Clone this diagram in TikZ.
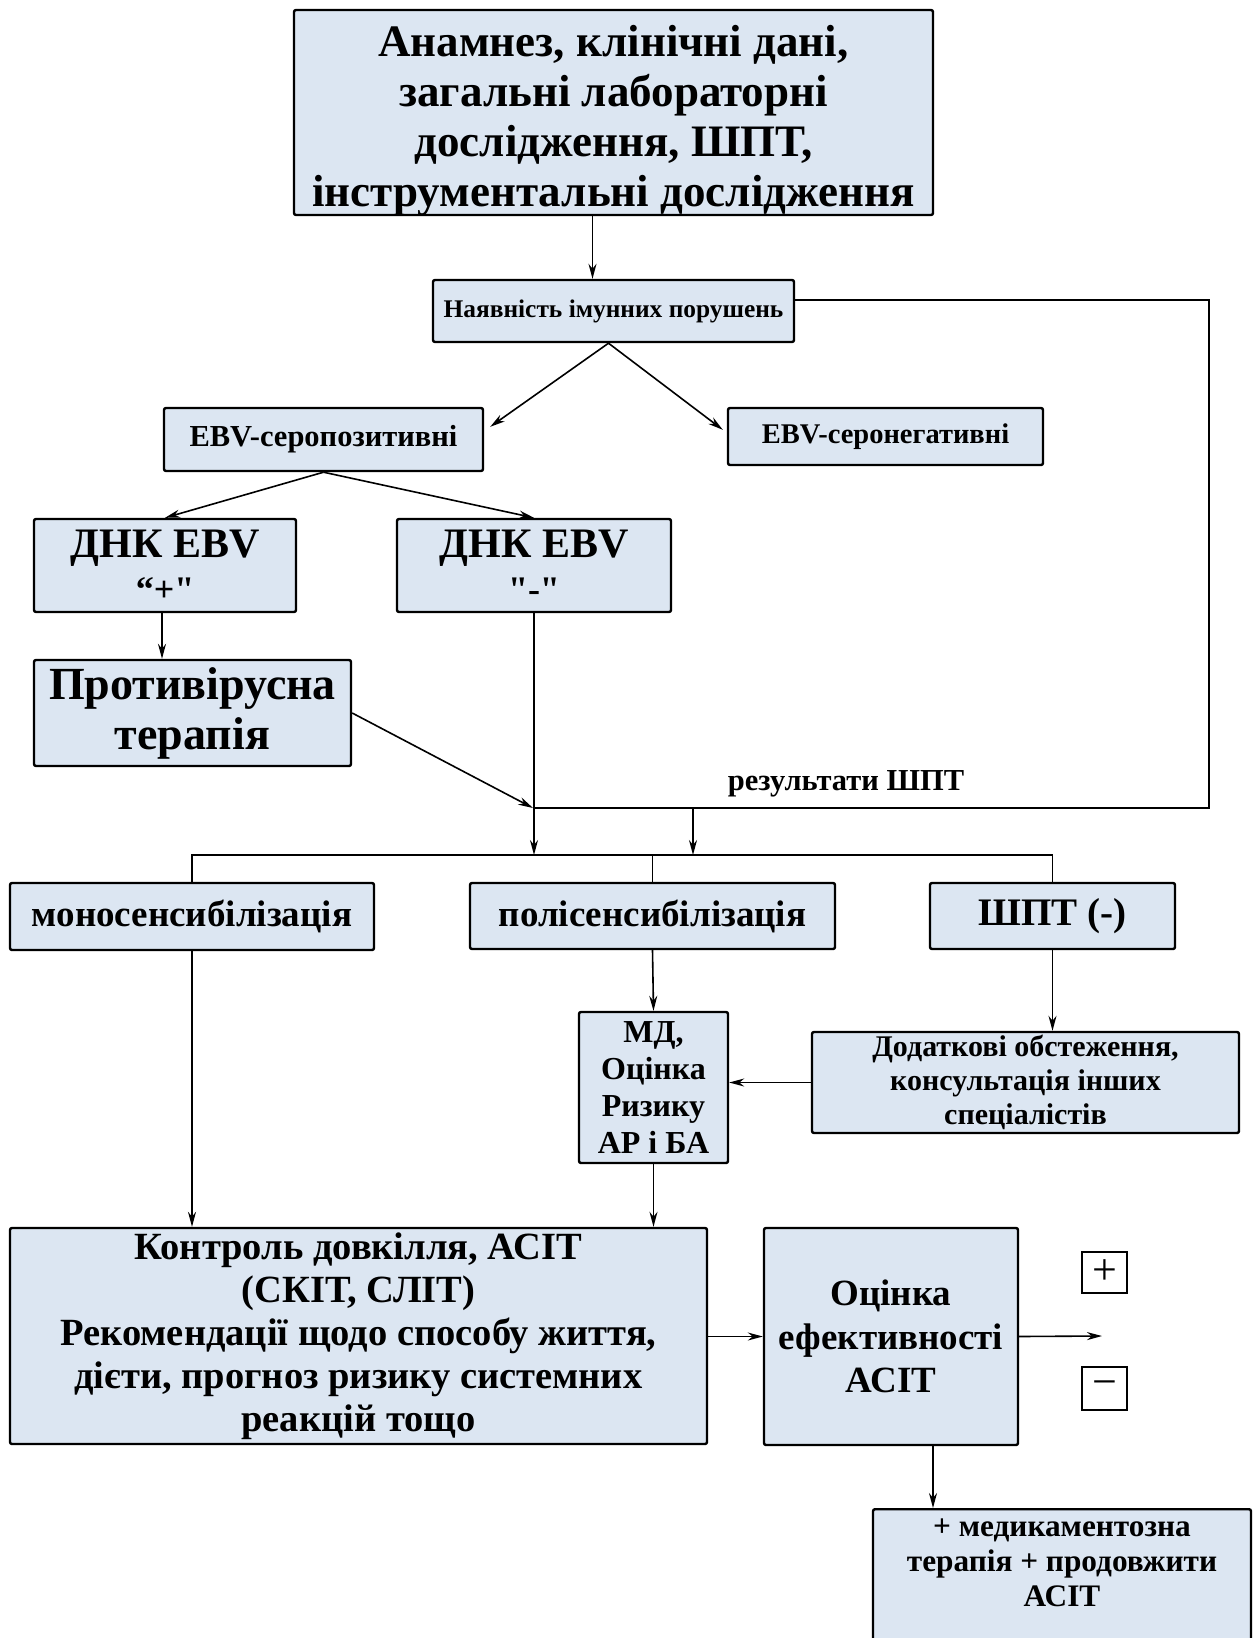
\documentclass[tikz,border=0pt]{standalone}
\usepackage{fontspec}
\setmainfont{Liberation Serif}
\usetikzlibrary{arrows.meta}

\definecolor{boxblue}{HTML}{DCE6F2}
\newcommand\setfs[2]{\fontsize{#1}{#2}\selectfont}

\tikzset{
  blok/.style={draw=black, line width=2.4pt, rounded corners=2pt, fill=boxblue,
    align=center, inner sep=2pt},
  znak/.style={draw=black, line width=1.4pt, fill=white, inner sep=0pt, font=\setfs{44}{44}},
  lin/.style={line width=1.6pt},
}

\begin{document}
\begin{tikzpicture}[x=1pt, y=-1pt, >={Stealth[length=15pt,width=8pt]}]
  \useasboundingbox (0,0) rectangle (1254,1638);

  % Верхня частина
  \node[blok, minimum width=639pt, minimum height=205pt, font={\bfseries\setfs{45}{50}}] (anam) at (613.5,112.5)
    {\parbox[c][195pt][c]{630pt}{\centering\vspace*{16pt}Анамнез, клінічні дані,\\ загальні лабораторні\\
      дослідження, ШПТ,\\ інструментальні дослідження}};
  \node[blok, minimum width=361pt, minimum height=62pt, font={\bfseries\setfs{25.4}{30}}] (immun) at (613.5,311)
    {Наявність імунних порушень};
  \node[blok, minimum width=319pt, minimum height=63pt, font={\bfseries\setfs{30.5}{36}}] (seropos) at (323.5,439.5)
    {EBV-серопозитивні};
  \node[blok, minimum width=315pt, minimum height=57pt, font={\bfseries\setfs{28.5}{34}}] (seroneg) at (885.5,436.5)
    {EBV-серонегативні};

  % ДНК EBV
  \node[blok, minimum width=262pt, minimum height=93pt, font={\bfseries\setfs{42}{44}}] (dnkpos) at (165,565.5)
    {ДНК EBV\\ {\setfs{36}{36}“+\textquotedbl}};
  \node[blok, minimum width=274pt, minimum height=93pt, font={\bfseries\setfs{42}{44}}] (dnkneg) at (534,565.5)
    {ДНК EBV\\ {\setfs{36}{36}\textquotedbl-\textquotedbl}};
  \node[blok, minimum width=317pt, minimum height=106pt, font={\bfseries\setfs{46}{50}}] (antivir) at (192.5,713)
    {Противірусна\\ терапія};

  \node[font={\bfseries\setfs{30.5}{34}}] (rez) at (846,784) {результати ШПТ};

  % Результати ШПТ
  \node[blok, minimum width=364pt, minimum height=67pt, font={\bfseries\setfs{37}{42}}] (mono) at (192,916.5)
    {моносенсибілізація};
  \node[blok, minimum width=365pt, minimum height=66pt, font={\bfseries\setfs{37}{42}}] (poly) at (652.5,916)
    {полісенсибілізація};
  \node[blok, minimum width=245pt, minimum height=66pt, font={\bfseries\setfs{39}{44}}] (shpt) at (1052.5,916)
    {ШПТ (-)};
  \node[blok, minimum width=149pt, minimum height=151pt, font={\bfseries\setfs{32}{37}}] (md) at (653.5,1087.5)
    {МД,\\ Оцінка\\ Ризику\\ АР і БА};
  \node[blok, minimum width=427pt, minimum height=101pt, font={\bfseries\setfs{30}{34}}] (dod) at (1025.5,1082.5)
    {Додаткові обстеження,\\ консультація інших\\ спеціалістів};

  % Нижня частина
  \node[blok, minimum width=697pt, minimum height=216pt, font={\bfseries\setfs{38.5}{43}}] (control) at (358.5,1336)
    {Контроль довкілля, АСІТ\\ (СКІТ, СЛІТ)\\ Рекомендації щодо способу життя,\\ дієти, прогноз ризику системних\\ реакцій тощо};
  \node[blok, minimum width=254pt, minimum height=217pt, font={\bfseries\setfs{37}{43.4}}] (ocinka) at (891,1336.5)
    {Оцінка\\ ефективності\\ АСІТ};
  \node[znak, minimum width=45pt, minimum height=41pt] (plus) at (1104.5,1272.5) {+};
  \node[znak, minimum width=45pt, minimum height=43pt] (minus) at (1104.5,1388.5) {−};
  \node[blok, anchor=north, minimum width=378pt, minimum height=170pt, font={\bfseries\setfs{31.3}{35}}] (final) at (1062,1508)
    {\parbox[c][150pt][t]{370pt}{\centering + медикаментозна\\ терапія + продовжити\\ АСІТ}};

  \coordinate (J) at (533,808);
  \coordinate (K) at (693,808);
  \coordinate (R) at (1209,808);
  \coordinate (bus) at (0,855);
  \coordinate (vyhid) at (1102,1336);

  % Стрілки
  \draw[lin,->] ([xshift=-21pt]anam.south) -- ([xshift=-21pt]immun.north);
  \draw[lin,->] ([xshift=-5pt]immun.south) -- ([shift={(6,20)}]seropos.north east);
  \draw[lin,->] ([xshift=-5pt]immun.south) -- ([shift={(-4,23)}]seroneg.north west);
  \draw[lin,->] (seropos.south) -- (dnkpos.north);
  \draw[lin,->] (seropos.south) -- (dnkneg.north);
  \draw[lin,->] ([xshift=-3pt]dnkpos.south) -- ([xshift=-3pt]dnkpos.south |- antivir.north);
  \draw[lin,->] (antivir.east) -- (J);
  \draw[lin,->] (dnkneg.south) -- (dnkneg.south |- bus);
  \draw[lin] ([shift={(0,-11)}]immun.east) -| (R) -- (J);
  \draw[lin,->] (K) -- (K |- bus);

  \draw[lin] (mono.north) -- (mono.north |- bus) -- (shpt.north |- bus) -- (shpt.north);
  \draw[lin] (poly.north) -- (poly.north |- bus);
  \draw[lin,->] (poly.south) -- (md.north);
  \draw[lin,->] (shpt.south) -- (shpt.south |- dod.north);
  \draw[lin,->] (dod.west) -- (dod.west -| md.east);
  \draw[lin,->] (mono.south) -- (mono.south |- control.north);
  \draw[lin,->] (md.south) -- (md.south |- control.north);
  \draw[lin,->] (control.east |- ocinka.west) -- (ocinka.west);
  \draw[lin,->] (ocinka.east) -- (vyhid);
  \draw[lin,->] ([xshift=42pt]ocinka.south) -- ([xshift=42pt]ocinka.south |- final.north);
\end{tikzpicture}
\end{document}
